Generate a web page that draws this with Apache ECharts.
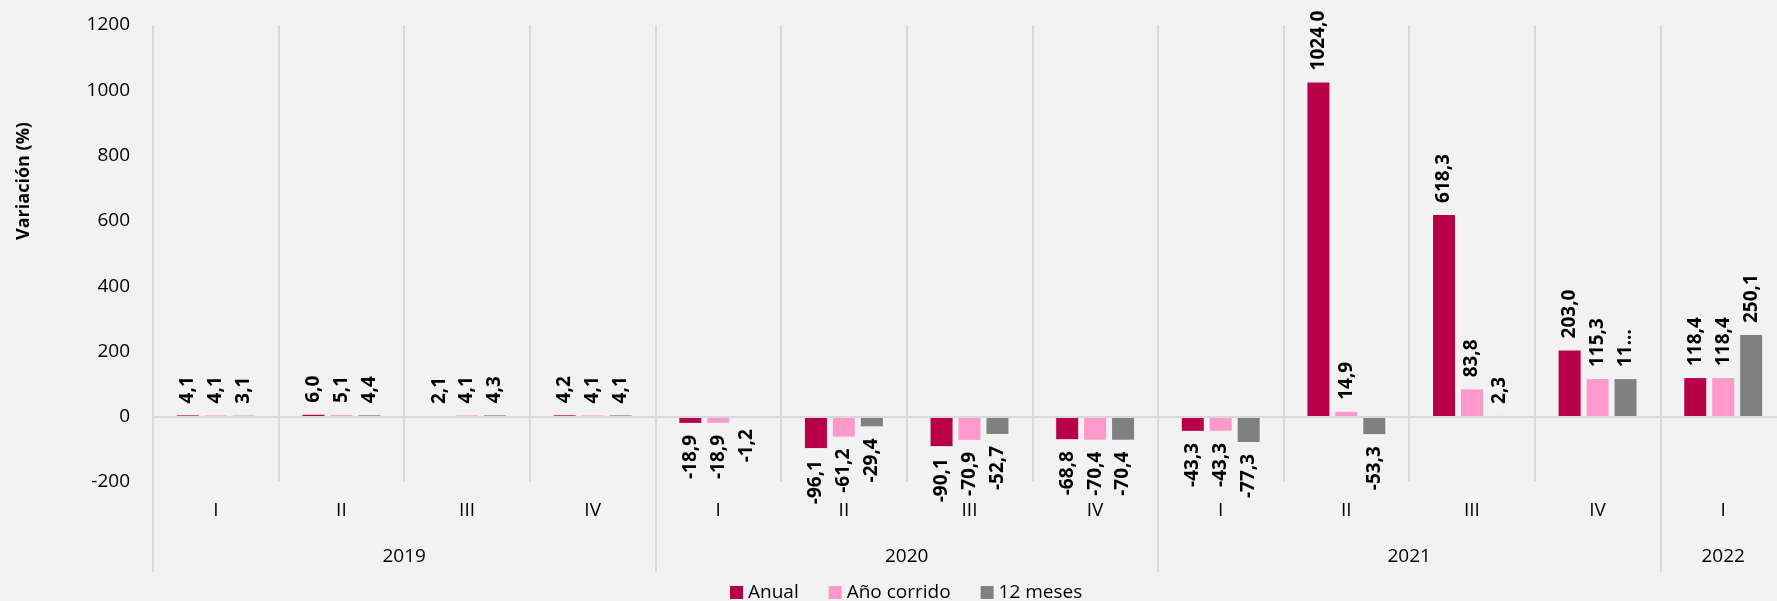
<!DOCTYPE html>
<html>
<head>
<meta charset="utf-8">
<script src="https://cdn.jsdelivr.net/npm/echarts@6/dist/echarts.min.js"></script>
<style>
    html, body { margin: 0; padding: 0; background: #f2f2f2; }
    #chart { width: 1777px; height: 601px; }
</style>
</head>
<body>
<div id="chart"></div>
<script>
// categories
var quarters = ['I', 'II', 'III', 'IV', 'I', 'II', 'III', 'IV', 'I', 'II', 'III', 'IV', 'I'];
var years = ['2019', '2020', '2021', '2022'];
var yearBounds = [0, 4, 8, 12, 13];
var yTicks = [-200, 0, 200, 400, 600, 800, 1000, 1200];

// series values (%)
var anual = [4.1, 6.0, 2.1, 4.2, -18.9, -96.1, -90.1, -68.8, -43.3, 1024.0, 618.3, 203.0, 118.4];
var anoCorrido = [4.1, 5.1, 4.1, 4.1, -18.9, -61.2, -70.9, -70.4, -43.3, 14.9, 83.8, 115.3, 118.4];
var doceMeses = [3.1, 4.4, 4.3, 4.1, -1.2, -29.4, -52.7, -70.4, -77.3, -53.3, 2.3, 115.3, 250.1];

var font = "'Open Sans', 'Noto Sans', sans-serif";
var lineColor = '#d9d9d9';

// year label positions = middle of each year group
var yearMids = [];
for (var i = 0; i < years.length; i++) {
    yearMids.push((yearBounds[i] + yearBounds[i + 1]) / 2);
}

function fmt(v) {
    return v.toFixed(1).replace('.', ',');
}

function toItems(arr, truncated) {
    return arr.map(function (v, i) {
        var up = v >= 0;
        var item = {
            value: v,
            label: {
                position: up ? 'top' : 'bottom',
                align: up ? 'left' : 'right'
            }
        };
        if (truncated && truncated.indexOf(i) > -1) {
            item.label.width = 44;
            item.label.overflow = 'truncate';
            item.label.ellipsis = '...';
        }
        return item;
    });
}

var barLabel = {
    show: true,
    rotate: 90,
    verticalAlign: 'middle',
    distance: 12,
    fontFamily: font,
    fontSize: 19,
    fontWeight: 'bold',
    color: '#000',
    formatter: function (p) { return fmt(p.value); }
};

var chart = echarts.init(document.getElementById('chart'));
chart.setOption({
    backgroundColor: '#f2f2f2',
    animation: false,
    textStyle: { fontFamily: font },
    graphic: [{
        type: 'text',
        x: 24,
        y: 181,
        rotation: Math.PI / 2,
        style: {
            text: 'Variación (%)',
            align: 'center',
            verticalAlign: 'middle',
            fontFamily: font,
            fontSize: 18,
            fontWeight: 'bold',
            fill: '#000'
        }
    }],
    legend: {
        left: 725,
        top: 578,
        icon: 'rect',
        itemWidth: 13,
        itemHeight: 13,
        itemGap: 30,
        textStyle: { fontSize: 19, color: '#000', fontFamily: font },
        data: ['Anual', 'Año corrido', '12 meses']
    },
    grid: {
        left: 153,
        width: 1633,
        top: 25,
        bottom: 119,
        outerBoundsMode: 'none'
    },
    xAxis: [{
        type: 'category',
        data: quarters,
        position: 'bottom',
        axisLine: { show: false, onZero: false },
        axisTick: { show: false },
        splitLine: { show: true, lineStyle: { color: lineColor, width: 2 } },
        axisLabel: { margin: 19, fontSize: 19, color: '#000', fontFamily: font }
    }, {
        type: 'value',
        min: 0,
        max: 13,
        position: 'bottom',
        axisLine: { show: false, onZero: false },
        splitLine: { show: false },
        axisTick: {
            show: true,
            length: 90,
            customValues: yearBounds.slice(0, 4),
            lineStyle: { color: lineColor, width: 2 }
        },
        axisLabel: {
            margin: 65,
            fontSize: 19,
            color: '#000',
            fontFamily: font,
            customValues: yearMids,
            formatter: function (v) {
                var k = yearMids.indexOf(v);
                return k > -1 ? years[k] : '';
            }
        }
    }],
    yAxis: {
        type: 'value',
        min: yTicks[0],
        max: yTicks[yTicks.length - 1],
        interval: 200,
        axisLine: { show: false },
        axisTick: { show: false },
        splitLine: { show: false },
        axisLabel: {
            margin: 23,
            fontSize: 19,
            color: '#000',
            fontFamily: font,
            formatter: function (v) { return String(v); }
        }
    },
    series: [{
        name: 'Anual',
        type: 'bar',
        barWidth: 22,
        barGap: '27%',
        itemStyle: { color: '#b8004a' },
        label: barLabel,
        data: toItems(anual),
        markLine: {
            silent: true,
            symbol: 'none',
            label: { show: false },
            lineStyle: { color: lineColor, width: 2, type: 'solid' },
            data: [{ yAxis: 0 }]
        }
    }, {
        name: 'Año corrido',
        type: 'bar',
        barWidth: 22,
        barGap: '27%',
        itemStyle: { color: '#ff99cc' },
        label: barLabel,
        data: toItems(anoCorrido)
    }, {
        name: '12 meses',
        type: 'bar',
        barWidth: 22,
        barGap: '27%',
        itemStyle: { color: '#808080' },
        label: barLabel,
        data: toItems(doceMeses, [11])
    }]
});
</script>
</body>
</html>
